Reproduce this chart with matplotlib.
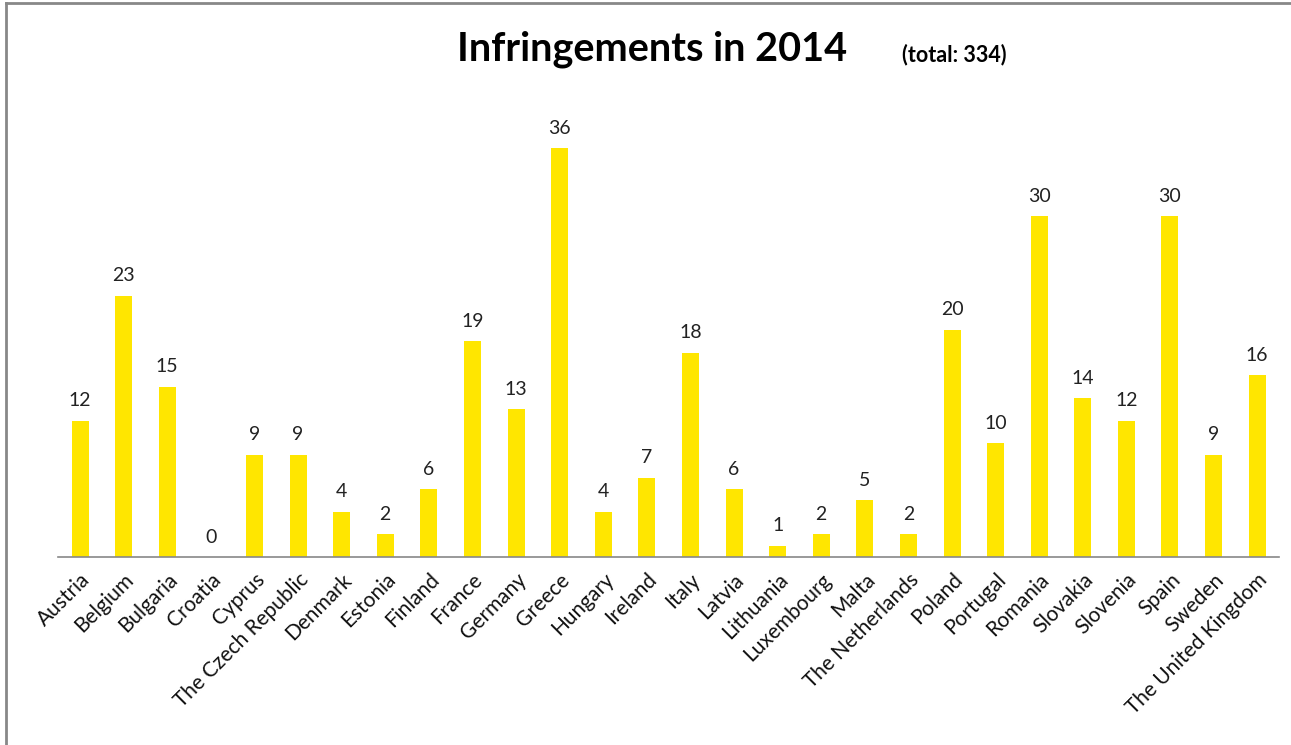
import matplotlib
matplotlib.use("Agg")
import matplotlib.pyplot as plt
from matplotlib.lines import Line2D

countries = ["Austria", "Belgium", "Bulgaria", "Croatia", "Cyprus", "The Czech Republic",
             "Denmark", "Estonia", "Finland", "France", "Germany", "Greece", "Hungary",
             "Ireland", "Italy", "Latvia", "Lithuania", "Luxembourg", "Malta",
             "The Netherlands", "Poland", "Portugal", "Romania", "Slovakia", "Slovenia",
             "Spain", "Sweden", "The United Kingdom"]
values = [12, 23, 15, 0, 9, 9, 4, 2, 6, 19, 13, 36, 4, 7, 18, 6, 1, 2, 5, 2,
          20, 10, 30, 14, 12, 30, 9, 16]

plt.rcParams['font.family'] = ['Lato', 'DejaVu Sans']

fig = plt.figure(figsize=(12.91, 7.45), dpi=100)
ax = fig.add_axes([0.0451, 0.2523, 0.9456, 0.61])

x = list(range(len(countries)))
bars = ax.bar(x, values, width=0.39, color="#FFE600")
ax.set_xlim(-0.5, len(countries) - 0.5)
ax.set_ylim(0, 40)
for xi, v in zip(x, values):
    ax.text(xi, v + 1.0, str(v), ha="center", va="bottom", fontsize=14, color="#222222")

for s in ["top", "right", "left"]:
    ax.spines[s].set_visible(False)
ax.spines["bottom"].set_color("#888888")
ax.spines["bottom"].set_linewidth(1.2)
ax.set_yticks([])
ax.set_xticks(x)
ax.set_xticklabels(countries, rotation=45, ha="right", rotation_mode="anchor",
                   fontsize=15, color="#111111")
ax.tick_params(axis="x", length=0, pad=9)

fig.text(0.505, 0.934, "Infringements in 2014", ha="center", va="center",
         fontsize=28.5, fontweight="bold")
fig.text(0.739, 0.927, "(total: 334)", ha="center", va="center",
         fontsize=15.5, fontweight="bold")

fig.add_artist(Line2D([0.0047, 0.0047], [0, 0.996], transform=fig.transFigure,
                      color="#888888", linewidth=2))
fig.add_artist(Line2D([0.0047, 1.0], [0.996, 0.996], transform=fig.transFigure,
                      color="#888888", linewidth=2))

fig.savefig("out.png", dpi=100)
